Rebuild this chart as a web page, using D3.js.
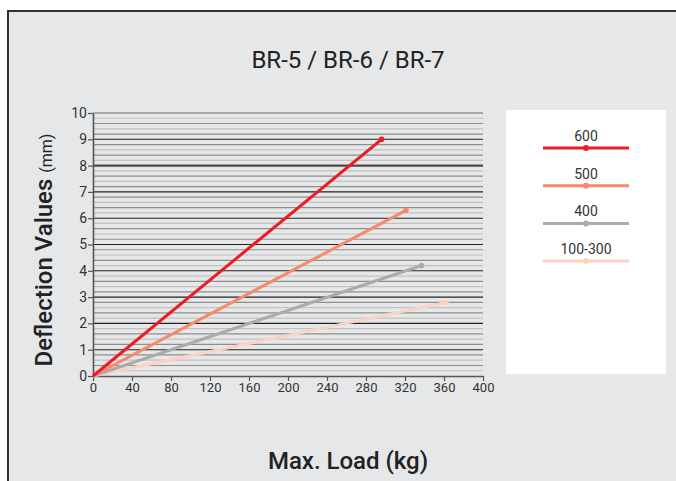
<!DOCTYPE html>
<html>
<head>
<meta charset="utf-8">
<script src="https://cdn.jsdelivr.net/npm/d3@7"></script>
<style>
  body { margin: 0; background: #fff; }
  svg text { font-family: Roboto, "Liberation Sans", sans-serif; }
</style>
</head>
<body>
<svg id="chart" width="676" height="481"></svg>
<script>
// series names, colours and end points (each line starts at 0,0)
const seriesNames = ['600', '500', '400', '100-300'];
const seriesColors = ['#ed1c24', '#f58a68', '#a9abae', '#fcd2c0'];
const seriesLoads = [296, 321, 337, 362];
const seriesDeflections = [9.0, 6.3, 4.2, 2.8];

const xTicks = [0, 40, 80, 120, 160, 200, 240, 280, 320, 360, 400];
const yTicks = [0, 1, 2, 3, 4, 5, 6, 7, 8, 9, 10];

const svg = d3.select('#chart');

// background panel with a border on top and left
svg.append('rect')
    .attr('x', 8).attr('y', 11)
    .attr('width', 668).attr('height', 470)
    .attr('fill', '#e6e7e9');
svg.append('path')
    .attr('d', 'M8,481 L8,11 L676,11')
    .attr('fill', 'none')
    .attr('stroke', '#333')
    .attr('stroke-width', 2);

const x = d3.scaleLinear().domain([0, 400]).range([93, 483]);
const y = d3.scaleLinear().domain([0, 10]).range([376, 113]);

// minor grid lines every 0.2
const minor = d3.range(0, 50).filter(i => i % 5 !== 0).map(i => i / 5);
svg.append('g')
    .selectAll('line')
    .data(minor)
    .enter().append('line')
    .attr('x1', x(0)).attr('x2', x(400))
    .attr('y1', d => y(d)).attr('y2', d => y(d))
    .attr('stroke', d => (Math.round(d * 5) % 2 === 0) ? '#8e8e8e' : '#c2c2c2')
    .attr('stroke-width', 1.2);

// major grid lines
svg.append('g')
    .selectAll('line')
    .data(yTicks.slice(1))
    .enter().append('line')
    .attr('x1', x(0)).attr('x2', x(400))
    .attr('y1', d => y(d)).attr('y2', d => y(d))
    .attr('stroke', d => d === 8 ? '#4a4a4a' : (d === 10 ? '#666' : '#222'))
    .attr('stroke-width', d => d === 8 ? 2.4 : 1.1);

// axes
const xAxis = svg.append('g')
    .attr('transform', `translate(0,${y(0)})`)
    .call(d3.axisBottom(x).tickValues(xTicks).tickSize(5).tickPadding(2).tickSizeOuter(0));
const yAxis = svg.append('g')
    .attr('transform', `translate(${x(0)},0)`)
    .call(d3.axisLeft(y).tickValues(yTicks).tickSize(5).tickPadding(1).tickSizeOuter(0));

[xAxis, yAxis].forEach(ax => {
    ax.select('.domain').attr('stroke', '#555').attr('stroke-width', 1.6);
    ax.selectAll('.tick line').attr('stroke', '#555').attr('stroke-width', 1.2);
    ax.selectAll('.tick text')
        .attr('fill', '#333')
        .style('font-size', '13px');
});
yAxis.selectAll('.tick text').style('font-size', '14px');

// data lines
const line = d3.line().x(d => x(d[0])).y(d => y(d[1]));
const lines = svg.append('g');
seriesNames.slice().reverse().forEach(name => {
    const i = seriesNames.indexOf(name);
    const pts = [[0, 0], [seriesLoads[i], seriesDeflections[i]]];
    lines.append('path')
        .datum(pts)
        .attr('d', line)
        .attr('fill', 'none')
        .attr('stroke', seriesColors[i])
        .attr('stroke-width', 3);
    lines.append('circle')
        .attr('cx', x(seriesLoads[i]))
        .attr('cy', y(seriesDeflections[i]))
        .attr('r', 2.8)
        .attr('fill', seriesColors[i]);
});

// legend
svg.append('rect')
    .attr('x', 506).attr('y', 110)
    .attr('width', 160).attr('height', 264)
    .attr('fill', '#fff');
const legend = svg.append('g')
    .selectAll('g')
    .data(seriesNames)
    .enter().append('g')
    .attr('transform', (d, i) => `translate(586,${148 + i * 37.7})`);
legend.append('line')
    .attr('x1', -43).attr('x2', 43)
    .attr('stroke', (d, i) => seriesColors[i])
    .attr('stroke-width', 3);
legend.append('circle')
    .attr('r', 3)
    .attr('fill', (d, i) => seriesColors[i]);
legend.append('text')
    .attr('y', -7)
    .attr('text-anchor', 'middle')
    .attr('fill', '#333')
    .style('font-size', '14px')
    .text(d => d);

// titles
svg.append('text')
    .attr('x', 348).attr('y', 68)
    .attr('text-anchor', 'middle')
    .attr('fill', '#222')
    .style('font-size', '24px')
    .text('BR-5 / BR-6 / BR-7');

svg.append('text')
    .attr('x', 348).attr('y', 469)
    .attr('text-anchor', 'middle')
    .attr('fill', '#222')
    .style('font-size', '24px')
    .style('font-weight', 500)
    .text('Max. Load (kg)');

const yLabel = svg.append('text')
    .attr('transform', 'translate(52,250) rotate(-90)')
    .attr('text-anchor', 'middle')
    .attr('fill', '#222')
    .style('font-size', '24px')
    .style('font-weight', 500);
yLabel.append('tspan').text('Deflection Values ');
yLabel.append('tspan').style('font-size', '16px').style('font-weight', 400).text('(mm)');
</script>
</body>
</html>
